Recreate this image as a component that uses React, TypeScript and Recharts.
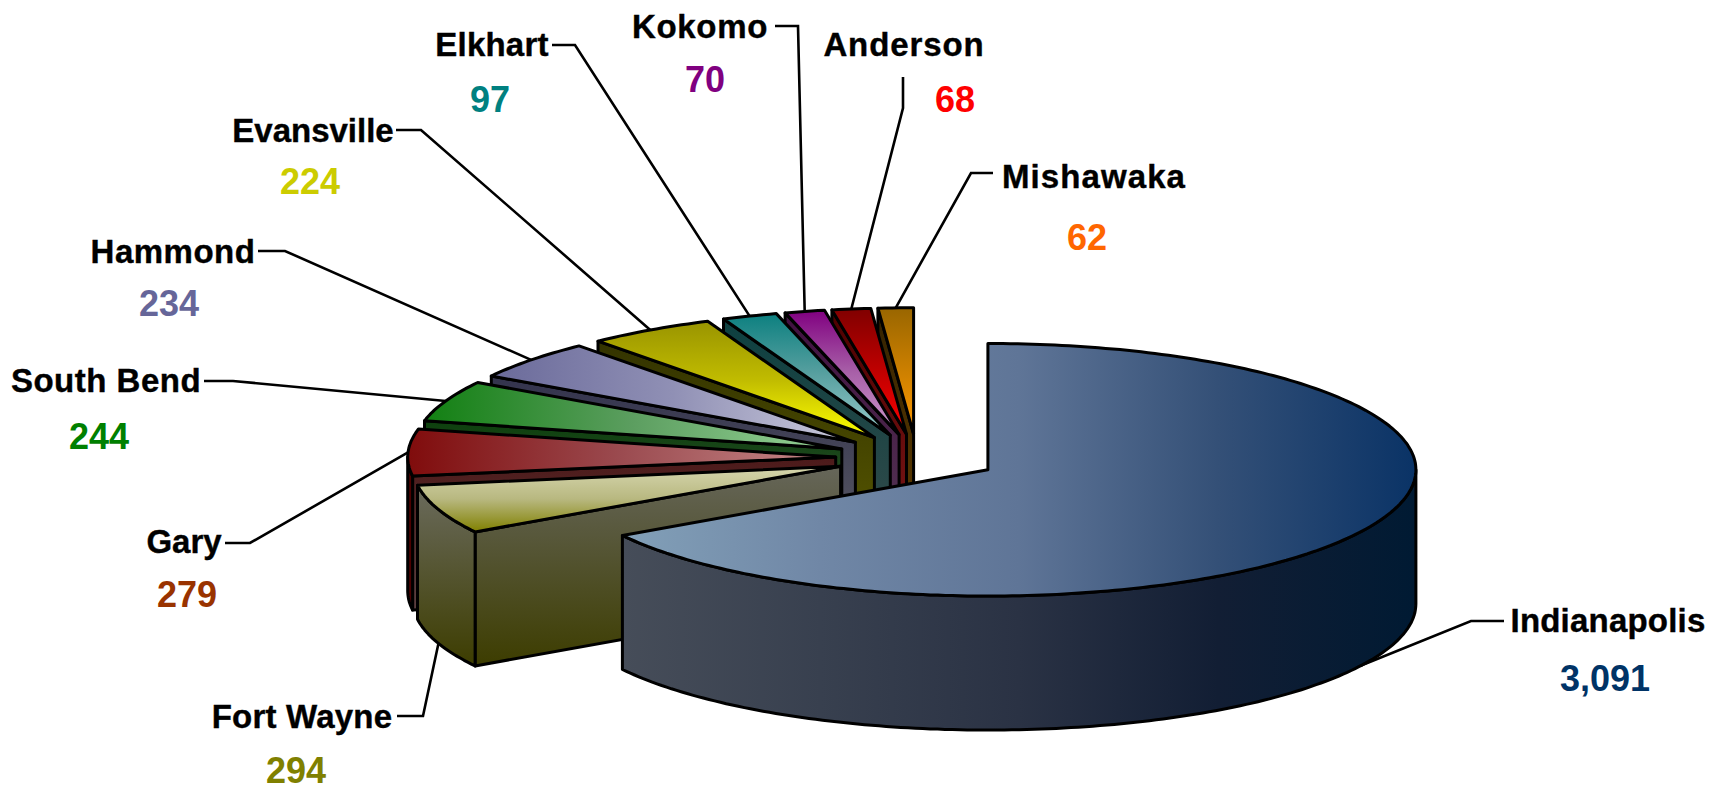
import { Pie, PieChart } from "recharts";

// Drawn back to front, so the list runs anticlockwise from 12 o'clock.
const CITIES = ["Mishawaka", "Anderson", "Kokomo", "Elkhart", "Evansville", "Hammond", "South Bend", "Gary", "Fort Wayne", "Indianapolis"];
const VALUES = [62, 68, 70, 97, 224, 234, 244, 279, 294, 3091];
const VALUE_COLORS = ["#ff6600", "#ff0000", "#800080", "#008080", "#cccc00", "#666699", "#008000", "#993300", "#808000", "#003366"];

const data = CITIES.map((name, i) => ({ name, value: VALUES[i] }));

const WIDTH = 1721;
const HEIGHT = 790;
const TILT = 0.295; // ellipse ry / rx
const EXPLODE = 0.19;
const DEPTH = 134;
const RAD = Math.PI / 180;

type SliceStyle = { dir: string; top: string[]; wall: string[]; cut: string[] };

const SLICE_STYLE: Record<string, SliceStyle> = {
  Indianapolis: {
    dir: "h",
    top: ["#82a0b8", "#7087a6", "#5f7597", "#345077", "#0a3366"],
    wall: ["#464d59", "#38404f", "#2a3244", "#121e34", "#001a33"],
    cut: ["#464d59", "#464d59"],
  },
  "Fort Wayne": { dir: "v", top: ["#d6d6ae", "#b8b880", "#808000"], wall: ["#6b6b5e", "#3d3d00"], cut: ["#66665a", "#3d3d00"] },
  Gary: { dir: "h", top: ["#800c0c", "#9b4b50", "#c88a8a"], wall: ["#4d0000", "#4d0000"], cut: ["#4d1a1a", "#5c4040"] },
  "South Bend": { dir: "h", top: ["#128012", "#5c9e60", "#99d699"], wall: ["#003300", "#003300"], cut: ["#0d400d", "#4d5c4d"] },
  Hammond: { dir: "h", top: ["#6a6a9a", "#9090b5", "#ccccdd"], wall: ["#33334d", "#33334d"], cut: ["#33334d", "#606068"] },
  Evansville: { dir: "v", top: ["#999400", "#c0bb00", "#ffff00"], wall: ["#333300", "#333300"], cut: ["#333300", "#5c5c00"] },
  Elkhart: { dir: "v", top: ["#0c8080", "#58a0a0", "#99cccc"], wall: ["#0d4040", "#0d4040"], cut: ["#0d4040", "#384c4c"] },
  Kokomo: { dir: "v", top: ["#800080", "#a860a8", "#cc99cc"], wall: ["#401040", "#401040"], cut: ["#401040", "#553a55"] },
  Anderson: { dir: "v", top: ["#800000", "#ff0000"], wall: ["#4d0000", "#4d0000"], cut: ["#4d0000", "#801a1a"] },
  Mishawaka: { dir: "v", top: ["#996600", "#ff9900"], wall: ["#332200", "#332200"], cut: ["#332200", "#664000"] },
};

// name centre, value centre, leader elbow, leader end, letter spacing of the name
const LABEL_PLACE: Record<string, number[]> = {
  Indianapolis: [1608, 620, 1605, 678, 1471, 621, 1504, 621, 0.2],
  "Fort Wayne": [302, 716, 296, 770, 423, 716, 397, 716, 0.2],
  Gary: [184, 541, 187, 594, 250, 543, 225, 543, 0],
  "South Bend": [106, 380, 99, 436, 233, 381, 204, 381, 0.5],
  Hammond: [173, 251, 169, 303, 285, 251, 258, 251, 0.5],
  Evansville: [313, 130, 310, 181, 421, 130, 396, 130, 0],
  Elkhart: [492, 44, 490, 99, 575, 45, 552, 45, 0.2],
  Kokomo: [700, 26, 705, 79, 798, 26, 775, 26, 0.7],
  Anderson: [904, 44, 955, 99, 903, 108, 903, 77, 0.9],
  Mishawaka: [1094, 176, 1087, 237, 971, 173, 993, 173, 1.1],
};

const offset = (mid: number, r: number) => ({
  x: EXPLODE * r * Math.cos(mid * RAD),
  y: -EXPLODE * r * TILT * Math.sin(mid * RAD),
});

const rimPoint = (cx: number, cy: number, r: number, a: number) => ({
  x: cx + r * Math.cos(a * RAD),
  y: cy - r * TILT * Math.sin(a * RAD),
});

const toPath = (pts: { x: number; y: number }[]) =>
  pts.map((p, i) => `${i ? "L" : "M"}${p.x.toFixed(1)},${p.y.toFixed(1)}`).join("") + "Z";

function arcPoints(cx: number, cy: number, r: number, from: number, to: number) {
  const pts = [];
  const steps = Math.max(2, Math.ceil(to - from));
  for (let i = 0; i <= steps; i++) pts.push(rimPoint(cx, cy, r, from + ((to - from) * i) / steps));
  return pts;
}

function Grad({ id, dir, colors }: { id: string; dir: string; colors: string[] }) {
  return (
    <linearGradient id={id} x1="0" y1="0" x2={dir === "h" ? "1" : "0"} y2={dir === "h" ? "0" : "1"}>
      {colors.map((c, i) => (
        <stop key={i} offset={i / (colors.length - 1)} stopColor={c} />
      ))}
    </linearGradient>
  );
}

function Slice3D(props: any) {
  const { cx, cy, outerRadius: r, startAngle, endAngle, name } = props;
  const s = Math.min(startAngle, endAngle);
  const e = Math.max(startAngle, endAngle);
  const off = offset((s + e) / 2, r);
  const tipX = cx + off.x;
  const tipY = cy + off.y;
  const style = SLICE_STYLE[name];
  const key = name.replace(" ", "");
  const stroke = { stroke: "#000", strokeWidth: 3, strokeLinejoin: "round" as const };

  const tip = { x: tipX, y: tipY };
  const down = (p: { x: number; y: number }) => ({ x: p.x, y: p.y + DEPTH });

  const cutFace = (a: number) => {
    const p = rimPoint(tipX, tipY, r, a);
    return toPath([tip, p, down(p), down(tip)]);
  };
  // faces that turn towards the viewer: the rim's front half and one radial cut
  const cuts = [];
  if (Math.cos(s * RAD) > 0.001) cuts.push(s);
  if (Math.cos(e * RAD) < -0.001) cuts.push(e);
  const lo = Math.max(s, 180);
  const hi = Math.min(e, 360);
  const wall = hi > lo ? arcPoints(tipX, tipY, r, lo, hi) : null;

  return (
    <g>
      <defs>
        <Grad id={`top${key}`} dir={style.dir} colors={style.top} />
        <Grad id={`wall${key}`} dir={name === "Indianapolis" ? "h" : "v"} colors={style.wall} />
        <Grad id={`cut${key}`} dir="v" colors={style.cut} />
      </defs>
      {cuts.map((a) => (
        <path key={a} d={cutFace(a)} fill={`url(#cut${key})`} {...stroke} />
      ))}
      {wall && <path d={toPath([...wall, ...wall.map(down).reverse()])} fill={`url(#wall${key})`} {...stroke} />}
      <path d={toPath([tip, ...arcPoints(tipX, tipY, r, s, e)])} fill={`url(#top${key})`} {...stroke} />
    </g>
  );
}

function CityLabel(props: any) {
  const { cx, cy, outerRadius: r, midAngle, index } = props;
  const name = CITIES[index];
  const [nx, ny, vx, vy, ex, ey, lx, ly, spacing] = LABEL_PLACE[name];
  const off = offset(midAngle, r);
  const p = rimPoint(cx + off.x, cy + off.y, r, midAngle);
  // leaders leave from the bottom rim on the front half of the pie
  const startY = Math.sin(midAngle * RAD) < 0 ? p.y + DEPTH : p.y;
  const font = { fontFamily: "'Liberation Sans', Arial, sans-serif", fontWeight: 700, textAnchor: "middle" as const };
  return (
    <g>
      <polyline
        points={`${p.x},${startY} ${ex},${ey} ${lx},${ly}`}
        fill="none"
        stroke="#000"
        strokeWidth={2.6}
      />
      <text x={nx} y={ny + 12} fontSize={33} fill="#000" stroke="#000" strokeWidth={0.4} letterSpacing={spacing} {...font}>
        {name}
      </text>
      <text x={vx} y={vy + 12.5} fontSize={36} fill={VALUE_COLORS[index]} {...font}>
        {VALUES[index].toLocaleString("en-US")}
      </text>
    </g>
  );
}

export default function App() {
  return (
    <div style={{ position: "absolute", left: 0, top: 0, width: WIDTH, height: HEIGHT, background: "#fff" }}>
      <PieChart width={WIDTH} height={HEIGHT} margin={{ top: 0, right: 0, bottom: 0, left: 0 }}>
        <Pie
          data={data}
          dataKey="value"
          nameKey="name"
          cx={917}
          cy={458}
          innerRadius={0}
          outerRadius={428}
          startAngle={90}
          endAngle={450}
          paddingAngle={0}
          isAnimationActive={false}
          shape={Slice3D}
          label={CityLabel}
          labelLine={false}
        />
      </PieChart>
    </div>
  );
}
